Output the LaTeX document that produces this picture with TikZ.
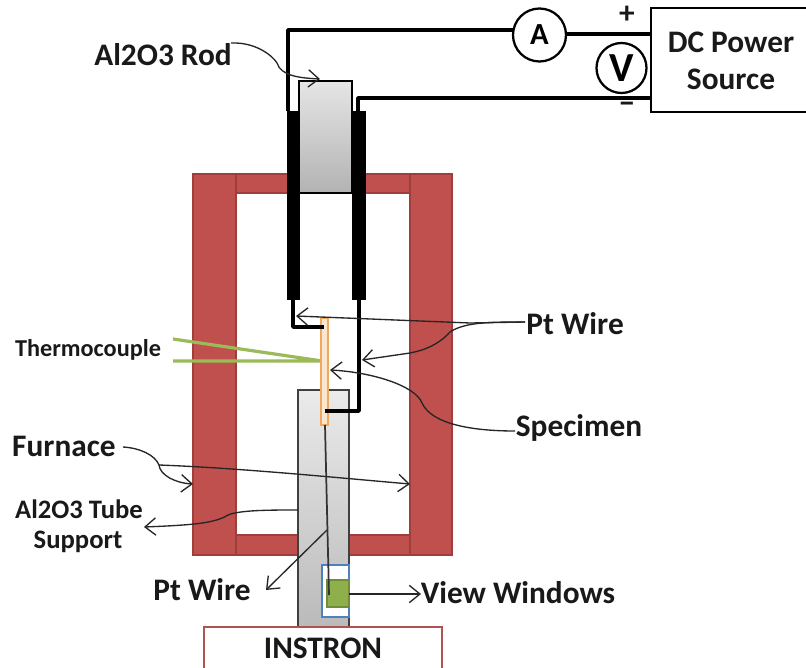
\documentclass[tikz,border=0pt]{standalone}
\usepackage{fontspec}
\setmainfont{Carlito}
\usetikzlibrary{arrows.meta}
\definecolor{furn}{HTML}{C0504D}
\definecolor{furnedge}{HTML}{9E3F3C}
\definecolor{tc}{HTML}{9BBB59}
\definecolor{wingreen}{HTML}{8DB04A}
\definecolor{winblue}{HTML}{4F81BD}
\definecolor{orng}{HTML}{F0A860}
\definecolor{spec}{HTML}{FBE6D0}
\definecolor{inst}{HTML}{B0524F}
\newcommand{\bx}[6]{%
  \pgfmathsetmacro{\cxx}{(#2+#4)/2}\pgfmathsetmacro{\cyy}{(#3+#5)/2}%
  \pgfmathsetmacro{\wdd}{abs(#4-#2)*0.75}\pgfmathsetmacro{\htt}{abs(#5-#3)*0.75}%
  \node[#6,minimum width=\wdd pt,minimum height=\htt pt] (#1) at (\cxx,\cyy) {};}
\tikzset{
  part/.style={rectangle,inner sep=0pt,outer sep=0pt},
  wall/.style={part,draw=furnedge,line width=1pt,fill=furn},
  blackrod/.style={part,fill=black},
  wire/.style={line width=2.7pt,draw=black,line join=round},
  thin wire/.style={line width=1.3pt,draw=black!80},
  lead/.style={line width=1pt,draw=black!85,-{Straight Barb[length=8pt,width=13pt,line width=1pt]}},
  leadplain/.style={line width=1pt,draw=black!85},
  label/.style={font=\bfseries\fontsize{23.5}{25}\selectfont,text=black!90,inner sep=0pt},
  meter/.style={circle,draw=black,line width=1.7pt,fill=white,inner sep=0pt}
}
\begin{document}
\begin{tikzpicture}[x=0.75pt,y=-0.75pt]
\clip (0,0) rectangle (806,667);
\fill[white] (0,0) rectangle (806,667);
% furnace
\bx{wallL}{193}{174}{236}{555}{wall}
\bx{wallR}{410}{174}{452}{555}{wall}
\bx{topL}{236}{174}{288}{193}{wall}
\bx{topR}{364}{174}{410}{193}{wall}
\bx{botL}{236}{535}{298}{555}{wall}
\bx{botR}{349}{535}{410}{555}{wall}
% tube
\bx{tube}{298}{390}{349}{628}{part,draw=black!75,line width=1pt,top color=black!8,bottom color=black!27}
% electrodes and rod
\bx{elecL}{287}{111}{300}{300}{blackrod}
\bx{elecR}{352}{111}{366}{300}{blackrod}
\bx{rod}{299}{81}{352}{193}{part,draw=black,line width=1pt,top color=black!10,bottom color=black!30}
% view window
\bx{window}{322}{565}{349}{617}{part,draw=winblue,line width=1.9pt,fill=white}
\bx{green}{327}{580}{349}{607}{part,draw=wingreen!80!black,line width=1pt,fill=wingreen}
% thermocouple
\coordinate (tc1) at (173,339);
\coordinate (tc2) at (173,361);
\coordinate (tcj) at (322,361);
\draw[tc,line width=2.4pt] (tc1) -- (tcj) -- (tc2);
% specimen
\bx{specimen}{321}{318}{328}{425}{part,draw=orng,line width=1.8pt,fill=spec}
% power and meters
\node[part,draw=black,line width=1.9pt,fill=white,minimum width=166*0.75pt,minimum height=104*0.75pt] (dc) at (734,60) {};
\node[label] (dct1) at (731,42) {DC Power};
\node[label] (dct2) at (731,79) {Source};
\node[meter,minimum size=53*0.75pt,font=\bfseries\fontsize{23}{25}\selectfont] (A) at (539.5,35) {A};
\node[meter,minimum size=50*0.75pt,font=\bfseries\fontsize{31}{33}\selectfont] (V) at (621.5,68) {V};
\node[label] (plus) at (627,15) {+};
\node[label] (minus) at (627,108) {−};
% wires
\coordinate (w1) at (288,111);
\coordinate (w2) at (288,30);
\coordinate (w3) at (513.5,30);
\coordinate (w4) at (566,34);
\coordinate (w5) at (651,34);
\coordinate (w6) at (358,111);
\coordinate (w7) at (358,98);
\coordinate (w8) at (651,98);
\draw[wire] (w1) -- (w2) -- (w3);
\draw[wire] (w4) -- (w5);
\draw[wire] (w6) -- (w7) -- (w8);
\coordinate (p1) at (293,300);
\coordinate (p2) at (293,327);
\coordinate (p3) at (324,327);
\draw[wire] (p1) -- (p2) -- (p3);
\coordinate (q1) at (359,300);
\coordinate (q2) at (359,411);
\coordinate (q3) at (325,411);
\draw[wire] (q1) -- (q2) -- (q3);
\coordinate (r1) at (325,425);
\coordinate (r2) at (329,595);
\draw[thin wire] (r1) -- (r2);
% texts
\node[label] (trod) at (163,55) {Al2O3 Rod};
\node[label] (tpt) at (575,324) {Pt Wire};
\node[label] (tspec) at (579,428) {Specimen};
\node[label] (tfurn) at (64,446) {Furnace};
\node[label,font=\bfseries\fontsize{18.2}{20}\selectfont] (ttc) at (88,350) {Thermocouple};
\node[label,font=\bfseries\fontsize{20}{22}\selectfont] (ttube1) at (79,509) {Al2O3 Tube};
\node[label,font=\bfseries\fontsize{20}{22}\selectfont] (ttube2) at (78,542) {Support};
\node[label] (tpt2) at (202,590) {Pt Wire};
\node[label] (tview) at (518,593) {View Windows};
\node[part,draw=inst,line width=1.5pt,fill=white,minimum width=238*0.75pt,minimum height=60*0.75pt] (inst) at (323,657) {};
\node[label] (tinst) at (323,648) {INSTRON};
% leader curves
\coordinate (a1) at (231,43);
\coordinate (a2) at (320,79);
\draw[lead] (a1) .. controls (255,42) and (272,55) .. (277,63) .. controls (281,76) and (300,78) .. (a2);
\coordinate (b1) at (525,322);
\coordinate (b2) at (470,323);
\coordinate (b3) at (296,316);
\draw[lead] (b1) -- (b2) -- (b3);
\coordinate (c1) at (362,360);
\draw[lead] (b1) .. controls (490,322) and (465,322) .. (450,332) .. controls (438,345) and (425,350) .. (410,353) -- (c1);
\coordinate (d1) at (515,431);
\coordinate (d2) at (330,370);
\draw[lead] (d1) .. controls (475,431) and (432,425) .. (422,403) .. controls (415,385) and (370,372) .. (d2);
\coordinate (e1) at (123,447);
\coordinate (e2) at (159,465);
\coordinate (e3) at (193,484);
\coordinate (e4) at (410,484);
\draw[leadplain] (e1) .. controls (140,448) and (155,455) .. (e2);
\draw[lead] (e2) .. controls (160,475) and (175,483) .. (e3);
\draw[lead] (e2) .. controls (240,468) and (340,478) .. (e4);
\coordinate (f1) at (298,510);
\coordinate (f2) at (144,527);
\draw[lead] (f1) .. controls (270,510) and (240,510) .. (228,515) .. controls (215,523) and (195,525) .. (f2);
\coordinate (g1) at (327,530);
\coordinate (g2) at (266,590);
\draw[lead] (g1) -- (g2);
\coordinate (h2) at (421,594);
\draw[lead] (green.east |- h2) -- (h2);
\end{tikzpicture}
\end{document}
